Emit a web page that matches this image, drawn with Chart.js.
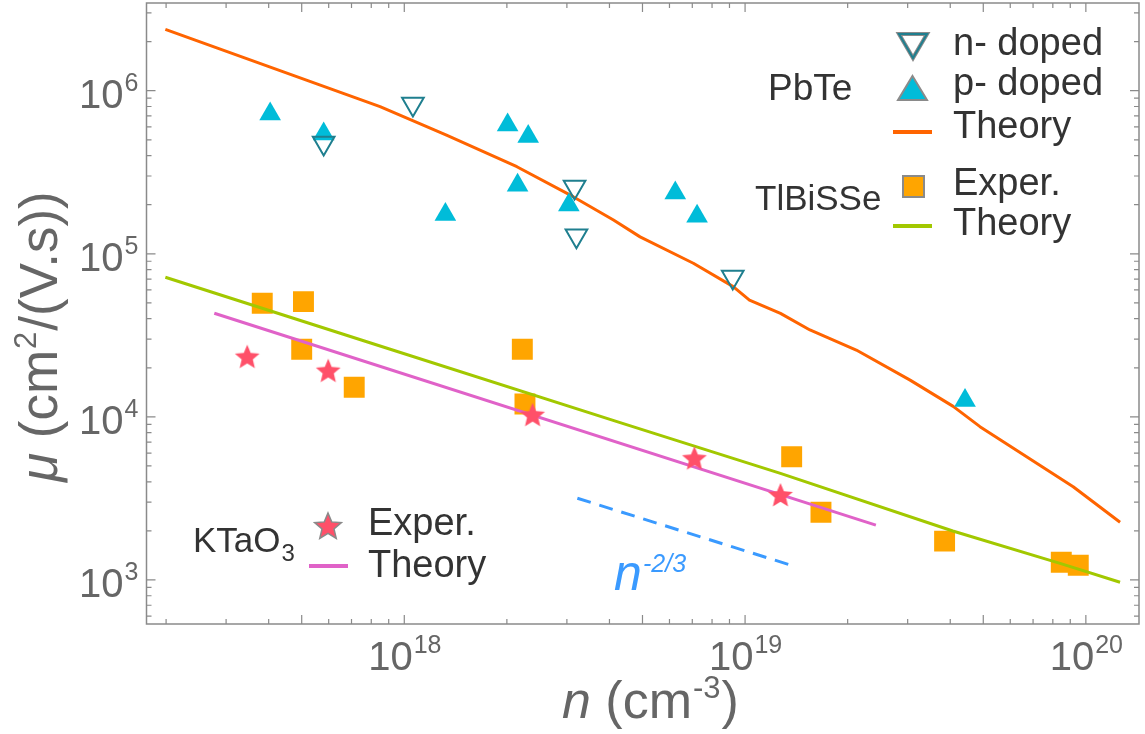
<!DOCTYPE html>
<html>
<head>
<meta charset="utf-8">
<script src="https://cdn.jsdelivr.net/npm/chart.js@4"></script>
<style>
  body { margin: 0; background: #fff; }
</style>
</head>
<body>
<canvas id="myChart" width="1145" height="734"></canvas>
<script>
// PbTe, n-doped samples (carrier density, mobility)
const pbteNDopedN = [5.8e17, 1.06e18, 3.16e18, 3.2e18, 9.2e18];
const pbteNDopedMu = [4.78e5, 8.28e5, 2.57e5, 1.29e5, 7.2e4];
// PbTe, p-doped samples
const pbtePDopedN = [4.04e17, 5.8e17, 1.32e18, 2.01e18, 2.15e18, 2.31e18, 3.04e18, 6.24e18, 7.23e18, 4.42e19];
const pbtePDopedMu = [7.2e5, 5.42e5, 1.74e5, 6.16e5, 2.63e5, 5.24e5, 1.99e5, 2.36e5, 1.70e5, 1.26e4];
const pbteTheoryN = [1.99e17, 8.49e17, 1.33e18, 2.14e18, 3.13e18, 4.11e18, 4.92e18, 7.05e18, 9.23e18, 1.03e19,
  1.27e19, 1.55e19, 2.12e19, 3.05e19, 4.08e19, 4.89e19, 6.7e19, 9.18e19, 1.26e20];
const pbteTheoryMu = [2.38e6, 7.98e5, 5.35e5, 3.42e5, 2.24e5, 1.61e5, 1.27e5, 8.75e4, 6.29e4, 5.2e4,
  4.31e4, 3.41e4, 2.57e4, 1.68e4, 1.16e4, 8.71e3, 5.7e3, 3.73e3, 2.26e3];

// TlBiSSe
const tlExpN = [3.83e17, 5.06e17, 5.0e17, 7.13e17, 2.22e18, 2.26e18, 1.37e19, 1.67e19, 3.85e19, 8.47e19, 9.5e19];
const tlExpMu = [4.98e4, 5.09e4, 2.6e4, 1.52e4, 2.6e4, 1.2e4, 5.7e3, 2.6e3, 1.73e3, 1.285e3, 1.23e3];
const tlTheoryN = [1.99e17, 8.49e17, 4.3e18, 1.27e19, 4.07e19, 8.4e19, 1.26e20];
const tlTheoryMu = [7.18e4, 2.72e4, 9.22e3, 4.5e3, 1.995e3, 1.265e3, 968];

// KTaO3
const ktExpN = [3.46e17, 5.98e17, 2.38e18, 7.1e18, 1.27e19];
const ktExpMu = [2.34e4, 1.92e4, 1.03e4, 5.58e3, 3.32e3];
const ktTheoryN = [2.77e17, 2.42e19];
const ktTheoryMu = [4.32e4, 2.17e3];

// n^-2/3 guide
const guideN = [3.22e18, 1.35e19];
const guideMu = [3.17e3, 1.24e3];

const xMajor = [1e18, 1e19, 1e20];
const yMajor = [1e3, 1e4, 1e5, 1e6];

const FONT = '"Liberation Sans", Arial, sans-serif';
const pts = (xs, ys) => xs.map((v, i) => ({ x: v, y: ys[i] }));

function starImage(size, fill, stroke) {
  const c = document.createElement('canvas');
  c.width = size; c.height = size;
  const g = c.getContext('2d');
  const R = size / 2 - 1, r = R * 0.45, cx = size / 2, cy = size / 2 + 1;
  g.beginPath();
  for (let i = 0; i < 10; i++) {
    const rad = i % 2 ? r : R;
    const a = -Math.PI / 2 + i * Math.PI / 5;
    g.lineTo(cx + rad * Math.cos(a), cy + rad * Math.sin(a));
  }
  g.closePath();
  g.fillStyle = fill;
  g.fill();
  if (stroke) { g.strokeStyle = stroke; g.lineWidth = 1.5; g.stroke(); }
  return c;
}

function logTicks(min, max) {
  const out = [];
  for (let e = Math.floor(Math.log10(min)); e <= Math.ceil(Math.log10(max)); e++) {
    for (let m = 1; m < 10; m++) {
      const v = m * Math.pow(10, e);
      if (v >= min && v <= max) out.push({ v, m });
    }
  }
  return out;
}

function powerLabel(ctx, base, exp, x, y, bigSize, smallSize, align) {
  ctx.font = bigSize + 'px ' + FONT;
  const w1 = ctx.measureText(base).width;
  ctx.font = smallSize + 'px ' + FONT;
  const w2 = ctx.measureText(exp).width;
  let left = x;
  if (align === 'center') left = x - (w1 + w2) / 2;
  if (align === 'right') left = x - w1 - w2;
  ctx.textAlign = 'left';
  ctx.font = bigSize + 'px ' + FONT;
  ctx.fillText(base, left, y);
  ctx.font = smallSize + 'px ' + FONT;
  ctx.fillText(exp, left + w1 + 1, y - 17);
}

const framePlugin = {
  id: 'framePlugin',
  afterDraw(chart) {
    const { ctx, chartArea: a } = chart;
    const xs = chart.scales.x, ys = chart.scales.y;
    ctx.save();
    ctx.strokeStyle = '#8a8a8a';
    ctx.lineWidth = 1.5;
    ctx.strokeRect(a.left, a.top, a.right - a.left, a.bottom - a.top);

    ctx.lineWidth = 1.2;
    ctx.beginPath();
    logTicks(xs.min, xs.max).forEach(t => {
      const px = xs.getPixelForValue(t.v);
      const len = (t.m === 1 || t.m === 5) ? 9 : 5;
      ctx.moveTo(px, a.bottom); ctx.lineTo(px, a.bottom - len);
      ctx.moveTo(px, a.top); ctx.lineTo(px, a.top + len);
    });
    logTicks(ys.min, ys.max).forEach(t => {
      const py = ys.getPixelForValue(t.v);
      const len = t.m === 1 ? 9 : 5;
      ctx.moveTo(a.left, py); ctx.lineTo(a.left + len, py);
      ctx.moveTo(a.right, py); ctx.lineTo(a.right - len, py);
    });
    ctx.stroke();

    // tick labels
    ctx.fillStyle = '#666';
    ctx.textBaseline = 'alphabetic';
    xMajor.forEach(v => {
      powerLabel(ctx, '10', String(Math.log10(v)), xs.getPixelForValue(v), 670, 40, 25, 'center');
    });
    yMajor.forEach(v => {
      const py = ys.getPixelForValue(v);
      powerLabel(ctx, '10', String(Math.log10(v)), a.left - 9, py + 17.5, 40, 25, 'right');
    });

    // axis titles
    ctx.fillStyle = '#666';
    ctx.textAlign = 'left';
    let cx = 562;
    ctx.font = 'italic 52px ' + FONT;
    ctx.fillText('n', cx, 718); cx += ctx.measureText('n').width;
    ctx.font = '52px ' + FONT;
    ctx.fillText(' (cm', cx, 718); cx += ctx.measureText(' (cm').width;
    ctx.font = '31px ' + FONT;
    ctx.fillText('-3', cx + 1, 698); cx += ctx.measureText('-3').width + 2;
    ctx.font = '52px ' + FONT;
    ctx.fillText(')', cx, 718);

    ctx.save();
    ctx.translate(57, 482);
    ctx.rotate(-Math.PI / 2);
    let ry = 0;
    ctx.font = 'italic 53px ' + FONT;
    ctx.fillText('\u03bc', ry, 0); ry += ctx.measureText('\u03bc').width;
    ctx.font = '53px ' + FONT;
    ctx.fillText(' (cm', ry, 0); ry += ctx.measureText(' (cm').width;
    ctx.font = '31px ' + FONT;
    ctx.fillText('2', ry + 1, -21); ry += ctx.measureText('2').width + 2;
    ctx.font = '53px ' + FONT;
    ctx.fillText('/(V.s))', ry, 0);
    ctx.restore();

    // n^-2/3 annotation
    ctx.fillStyle = '#3a9aff';
    ctx.font = 'italic 50px ' + FONT;
    ctx.fillText('n', 614, 590);
    ctx.font = 'italic 25px ' + FONT;
    ctx.fillText('-2/3', 643, 572);

    // legends
    ctx.fillStyle = '#333';
    ctx.font = '37px ' + FONT;
    ctx.fillText('PbTe', 768, 100);
    ctx.font = '35px ' + FONT;
    ctx.fillText('TlBiSSe', 755, 210);
    ctx.fillText('KTaO', 193, 552);
    const kw = ctx.measureText('KTaO').width;
    ctx.font = '24px ' + FONT;
    ctx.fillText('3', 193 + kw + 1, 561);

    ctx.font = '38px ' + FONT;
    ctx.fillText('n- doped', 953, 55);
    ctx.fillText('p- doped', 953, 95);
    ctx.fillText('Theory', 953, 138);
    ctx.fillText('Exper.', 953, 195);
    ctx.fillText('Theory', 953, 235);
    ctx.fillText('Exper.', 368, 535);
    ctx.fillText('Theory', 368, 577);

    // legend symbols
    ctx.lineJoin = 'miter';
    ctx.beginPath();
    ctx.moveTo(899, 34); ctx.lineTo(927, 34); ctx.lineTo(913, 58); ctx.closePath();
    ctx.fillStyle = '#fff'; ctx.fill();
    ctx.strokeStyle = '#8a8a8a'; ctx.lineWidth = 4; ctx.stroke();
    ctx.strokeStyle = '#1f7f8f'; ctx.lineWidth = 2; ctx.stroke();

    ctx.beginPath();
    ctx.moveTo(912.5, 76); ctx.lineTo(927, 100); ctx.lineTo(898, 100); ctx.closePath();
    ctx.fillStyle = '#00bcd9'; ctx.fill();
    ctx.strokeStyle = '#8a8a8a'; ctx.lineWidth = 2; ctx.stroke();

    ctx.fillStyle = '#ffa500';
    ctx.fillRect(903, 176, 21, 21);
    ctx.strokeRect(903, 176, 21, 21);

    ctx.lineWidth = 4;
    [[132, '#ff6400'], [226, '#a2c800']].forEach(([ly, col]) => {
      ctx.strokeStyle = col;
      ctx.beginPath(); ctx.moveTo(893, ly); ctx.lineTo(932, ly); ctx.stroke();
    });
    ctx.strokeStyle = '#e062c8';
    ctx.beginPath(); ctx.moveTo(309, 566); ctx.lineTo(348, 566); ctx.stroke();
    ctx.drawImage(starImage(30, '#ff5069', '#8a8a8a'), 313, 511);

    ctx.restore();
  }
};

const ctx = document.getElementById('myChart').getContext('2d');
const chart = new Chart(ctx, {
  type: 'scatter',
  data: {
    datasets: [
      {
        label: 'KTaO3 Exper.',
        data: pts(ktExpN, ktExpMu),
        pointStyle: starImage(28, '#ff5069'),
        pointRadius: 14,
      },
      {
        label: 'n- doped',
        data: pts(pbteNDopedN, pbteNDopedMu),
        pointStyle: 'triangle',
        rotation: 180,
        pointRadius: 12.5,
        backgroundColor: 'rgba(0,0,0,0)',
        borderColor: '#1f7f8f',
        borderWidth: 2,
      },
      {
        label: 'p- doped',
        data: pts(pbtePDopedN, pbtePDopedMu),
        pointStyle: 'triangle',
        pointRadius: 12.5,
        backgroundColor: '#00bcd9',
        borderWidth: 0,
      },
      {
        label: 'PbTe Theory',
        data: pts(pbteTheoryN, pbteTheoryMu),
        showLine: true,
        pointRadius: 0,
        borderColor: '#ff6400',
        borderWidth: 3,
        borderJoinStyle: 'round',
      },
      {
        label: 'TlBiSSe Theory',
        data: pts(tlTheoryN, tlTheoryMu),
        showLine: true,
        pointRadius: 0,
        borderColor: '#a2c800',
        borderWidth: 3,
      },
      {
        label: 'KTaO3 Theory',
        data: pts(ktTheoryN, ktTheoryMu),
        showLine: true,
        pointRadius: 0,
        borderColor: '#e062c8',
        borderWidth: 3,
      },
      {
        label: 'n^-2/3',
        data: pts(guideN, guideMu),
        showLine: true,
        pointRadius: 0,
        borderColor: '#3a9aff',
        borderWidth: 3,
        borderDash: [14, 9],
      },
      {
        label: 'TlBiSSe Exper.',
        data: pts(tlExpN, tlExpMu),
        pointStyle: 'rect',
        pointRadius: 14.8,
        backgroundColor: '#ffa500',
        borderWidth: 0,
      },
    ],
  },
  options: {
    responsive: false,
    animation: false,
    layout: { autoPadding: false, padding: { top: 3, right: 6, left: 0, bottom: 0 } },
    plugins: { legend: { display: false }, tooltip: { enabled: false } },
    scales: {
      x: {
        type: 'logarithmic',
        min: 1.752e17,
        max: 1.432e20,
        ticks: { display: false },
        grid: { display: false },
        border: { display: false },
        afterFit: (scale) => { scale.height = 110; },
      },
      y: {
        type: 'logarithmic',
        min: 537,
        max: 3.45e6,
        ticks: { display: false },
        grid: { display: false },
        border: { display: false },
        afterFit: (scale) => { scale.width = 146.5; },
      },
    },
  },
  plugins: [framePlugin],
});
</script>
</body>
</html>
